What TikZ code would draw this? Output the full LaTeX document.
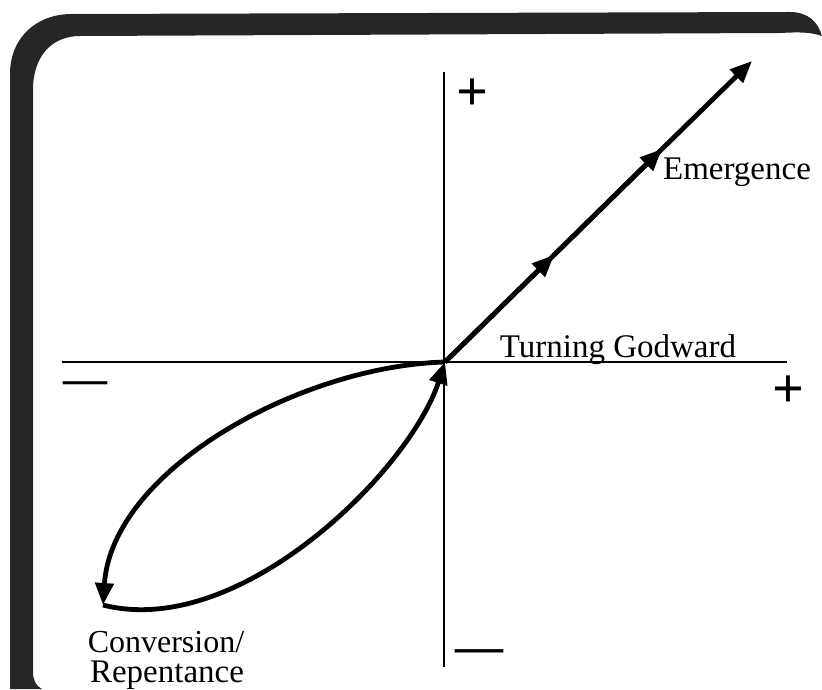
\documentclass[tikz,border=0pt]{standalone}
\usepackage{fontspec}
\setmainfont{Liberation Serif}
\usetikzlibrary{arrows.meta}

\begin{document}
\begin{tikzpicture}[x=0.5pt, y=-0.5pt,
    axis/.style={line width=1pt, draw=borderColour},
    route/.style={line width=2.4pt, draw=borderColour, -{Triangle[length=11pt, width=9pt]}},
    sign/.style={font=\fontsize{28}{28}\selectfont\bfseries, inner sep=0pt},
    gothic/.style={font=\fontsize{16.5}{16.5}\selectfont, inner sep=0pt},
    roman/.style={font=\fontsize{16}{16}\selectfont, inner sep=0pt}]
    % Define colours
    \definecolor{borderColour}{HTML}{000000}
    \definecolor{bandColour}{HTML}{262626}

    \useasboundingbox (0,0) rectangle (822,689);

    % Draw the frame band (top and left)
    \fill[bandColour] (10,689) -- (10,74) .. controls (10,38) and (36,14) .. (72,14)
        -- (790,12) .. controls (808,12) and (818,22) .. (822,36)
        .. controls (810,32) and (800,32) .. (780,33)
        -- (80,36) .. controls (52,36) and (33,56) .. (33,90)
        -- (33,672) .. controls (33,680) and (36,686) .. (42,689) -- cycle;

    % Define the axis ends
    \coordinate (origin) at (445,362);
    \coordinate (xLeft) at (62,362);
    \coordinate (xRight) at (787,362);
    \coordinate (yTop) at (444,72);
    \coordinate (yBottom) at (444,667);

    % Draw axes
    \draw[axis] (xLeft) -- (xRight);
    \draw[axis] (yTop) -- (yBottom);

    % Signs on the axes
    \node[sign] (plusTop) at (472,95) {+};
    \node[sign] (plusRight) at (788,392) {+};
    \node[sign, font=\fontsize{22}{22}\selectfont\bfseries] (minusLeft) at (85,388) {—};
    \node[sign, font=\fontsize{24}{24}\selectfont\bfseries] (minusBottom) at (479,656) {—};

    % Points on the way up
    \coordinate (emOne) at (554,255);
    \coordinate (emTwo) at (662,149);
    \coordinate (emTip) at (752,61);
    \coordinate (convTip) at (103,605);

    % Draw the loop down and back
    \draw[route] (origin) .. controls (300,366) and (112,470) .. (convTip);
    \draw[route] (convTip) .. controls (240,640) and (410,470) .. (origin);

    % Draw the line of emergence
    \draw[line width=2.4pt, draw=borderColour] (origin) -- (emTwo);
    \draw[route] (origin) -- (emOne);
    \draw[route] (emOne) -- (emTwo);
    \draw[route] (emTwo) -- (emTip);

    % Labels
    \node[gothic] (emergence) at (737,172) {Emergence};
    \node[gothic, anchor=base] (godward) at (618,357) {Turning Godward};
    \node[roman] (conversion) at (166,642) {Conversion/};
    \node[gothic] (repentance) at (167,675) {Repentance};

\end{tikzpicture}
\end{document}
